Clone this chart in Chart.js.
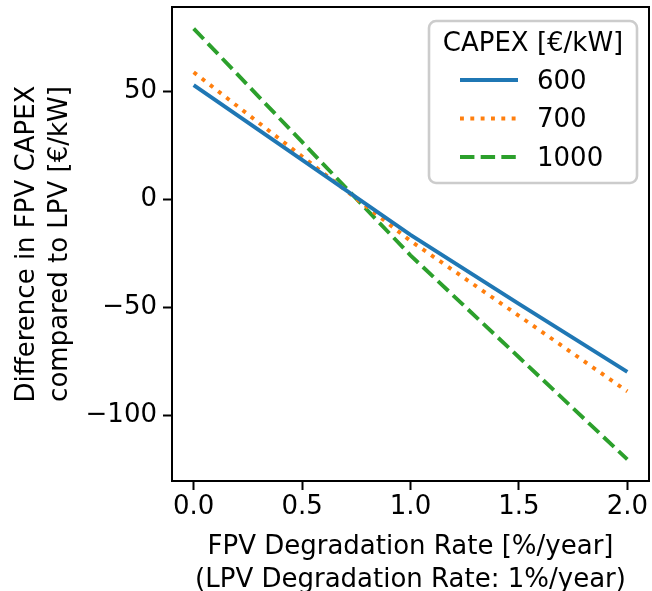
<!DOCTYPE html>
<html>
<head>
<meta charset="utf-8">
<style>
  html, body { margin: 0; padding: 0; background: #ffffff; }
  #wrap { width: 652px; height: 591px; position: relative; }
</style>
<script src="https://cdn.jsdelivr.net/npm/chart.js@4/dist/chart.umd.min.js"></script>
</head>
<body>
<div id="wrap"><canvas id="c" width="652" height="591"></canvas></div>
<script>
// ---- data ----
const degradationRates = [0, 0.5, 1, 1.5, 2];
const capex600 = [52.8, 18.2, -16.5, -48.5, -80];
const capex700 = [58.8, 19.8, -19.3, -54, -89];
const capex1000 = [79, 26.5, -26, -73.2, -120.5];
const seriesLabels = ['600', '700', '1000'];
const legendTitle = 'CAPEX [€/kW]';
const xTicks = [0, 0.5, 1, 1.5, 2];
const yTicks = [-100, -50, 0, 50];
const xTitle = ['FPV Degradation Rate [%/year]', '(LPV Degradation Rate: 1%/year)'];
const yTitle = ['Difference in FPV CAPEX', 'compared to LPV [€/kW]'];

const FONT = "'DejaVu Sans', 'Liberation Sans', sans-serif";
const FS = 26;
const LW = 3.9;

function pts(ys) { return degradationRates.map((x, i) => ({ x: x, y: ys[i] })); }

const frameAndLegend = {
  id: 'frameAndLegend',
  afterDraw(chart) {
    const ctx = chart.ctx;
    const a = chart.chartArea;
    ctx.save();
    ctx.strokeStyle = '#000';
    ctx.lineWidth = 2;
    ctx.strokeRect(a.left, a.top, a.right - a.left, a.bottom - a.top);
    // legend box inside plot area (upper right)
    const bx = 429, by = 21, bw = 208, bh = 162, r = 7;
    ctx.beginPath();
    ctx.moveTo(bx + r, by);
    ctx.arcTo(bx + bw, by, bx + bw, by + bh, r);
    ctx.arcTo(bx + bw, by + bh, bx, by + bh, r);
    ctx.arcTo(bx, by + bh, bx, by, r);
    ctx.arcTo(bx, by, bx + bw, by, r);
    ctx.closePath();
    ctx.fillStyle = 'rgba(255,255,255,0.8)';
    ctx.fill();
    ctx.strokeStyle = '#cccccc';
    ctx.lineWidth = 2.6;
    ctx.stroke();
    ctx.fillStyle = '#000';
    ctx.font = FS + 'px ' + FONT;
    ctx.textAlign = 'center';
    ctx.textBaseline = 'middle';
    ctx.fillText(legendTitle, bx + bw / 2, 44);
    const rows = [80, 118.5, 157];
    chart.data.datasets.forEach((ds, i) => {
      const y = rows[i];
      ctx.beginPath();
      ctx.setLineDash(ds.borderDash || []);
      ctx.lineCap = 'butt';
      ctx.strokeStyle = ds.borderColor;
      ctx.lineWidth = ds.borderWidth;
      ctx.moveTo(460, y);
      ctx.lineTo(518, y);
      ctx.stroke();
      ctx.setLineDash([]);
      ctx.textAlign = 'left';
      ctx.fillStyle = '#000';
      ctx.fillText(ds.label, 537, y + 2);
    });
    ctx.restore();
  }
};

new Chart(document.getElementById('c'), {
  type: 'line',
  data: {
    datasets: [
      { label: seriesLabels[0], data: pts(capex600), borderColor: '#1f77b4', borderWidth: LW, pointRadius: 0, fill: false, tension: 0 },
      { label: seriesLabels[1], data: pts(capex700), borderColor: '#ff7f0e', borderWidth: LW, borderDash: [LW, LW * 1.65], pointRadius: 0, fill: false, tension: 0 },
      { label: seriesLabels[2], data: pts(capex1000), borderColor: '#2ca02c', borderWidth: LW, borderDash: [LW * 3.7, LW * 1.6], pointRadius: 0, fill: false, tension: 0 }
    ]
  },
  options: {
    responsive: false,
    animation: false,
    devicePixelRatio: 1,
    layout: { padding: { top: 7, right: 3, left: 0, bottom: 0 } },
    plugins: { legend: { display: false }, tooltip: { enabled: false } },
    elements: { line: { borderCapStyle: 'butt', borderJoinStyle: 'miter' } },
    scales: {
      x: {
        type: 'linear',
        min: -0.1, max: 2.1,
        afterBuildTicks(s) { s.ticks = xTicks.map(v => ({ value: v })); },
        afterFit(s) { s.height = 110; s.paddingLeft = 0; s.paddingRight = 0; },
        grid: { display: true, drawOnChartArea: false, drawTicks: true, tickLength: 9, tickWidth: 2, tickColor: '#000' },
        border: { display: true, color: '#000', width: 2 },
        ticks: {
          padding: 2, color: '#000', maxRotation: 0, autoSkip: false,
          font: { family: FONT, size: FS },
          callback: v => Number(v).toFixed(1)
        },
        title: {
          display: true, text: xTitle, color: '#000',
          font: { family: FONT, size: FS, lineHeight: 1.25 },
          padding: { top: 0, bottom: -5 }
        }
      },
      y: {
        type: 'linear',
        min: -130.5, max: 89,
        afterBuildTicks(s) { s.ticks = yTicks.map(v => ({ value: v })); },
        afterFit(s) { s.width = 172; s.paddingTop = 0; s.paddingBottom = 0; },
        grid: { display: true, drawOnChartArea: false, drawTicks: true, tickLength: 9, tickWidth: 2, tickColor: '#000' },
        border: { display: true, color: '#000', width: 2 },
        ticks: {
          padding: 6, color: '#000',
          font: { family: FONT, size: FS },
          callback: v => String(v).replace('-', '\u2212')
        },
        title: {
          display: true, text: yTitle, color: '#000',
          font: { family: FONT, size: FS, lineHeight: 1.25 },
          padding: { top: 11, bottom: 0 }
        }
      }
    }
  },
  plugins: [frameAndLegend]
});
</script>
</body>
</html>
